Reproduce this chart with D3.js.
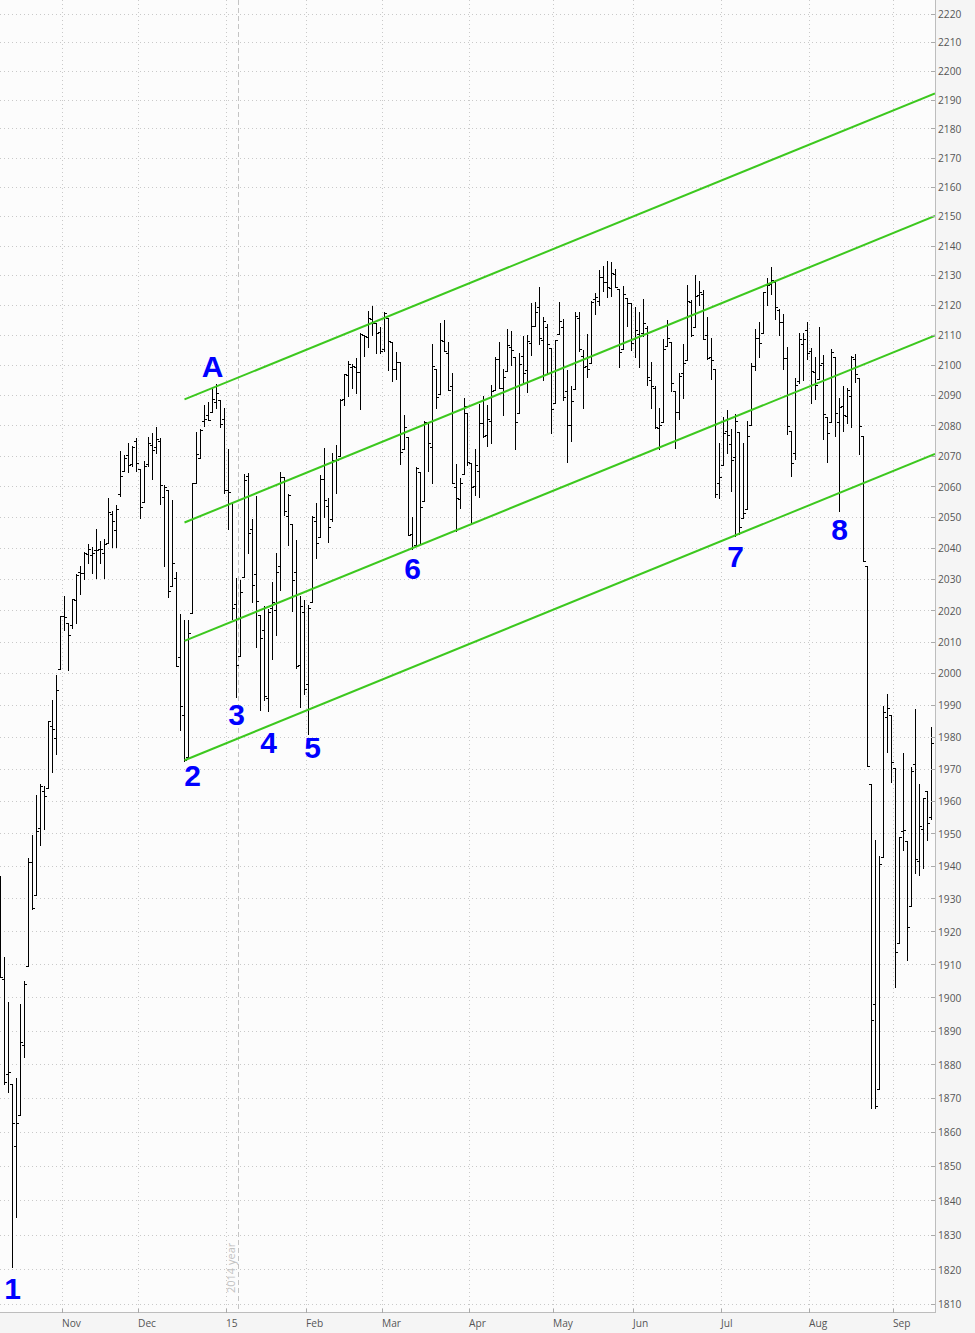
<!DOCTYPE html>
<html><head><meta charset="utf-8">
<script src="https://cdn.jsdelivr.net/npm/d3@7"></script>
<style>
html,body{margin:0;padding:0;background:#f5f5f5;}
svg{display:block;}
</style></head><body>
<svg id="chart" width="975" height="1333"></svg>
<script>
// ---------- DATA ----------
const dates = [
"2014-10-10","2014-10-13","2014-10-14","2014-10-15","2014-10-16","2014-10-17","2014-10-20","2014-10-21","2014-10-22","2014-10-23","2014-10-24","2014-10-27","2014-10-28","2014-10-29","2014-10-30","2014-10-31",
"2014-11-03","2014-11-04","2014-11-05","2014-11-06","2014-11-07","2014-11-10","2014-11-11","2014-11-12","2014-11-13","2014-11-14","2014-11-17","2014-11-18","2014-11-19","2014-11-20","2014-11-21","2014-11-24","2014-11-25","2014-11-26","2014-11-28",
"2014-12-01","2014-12-02","2014-12-03","2014-12-04","2014-12-05","2014-12-08","2014-12-09","2014-12-10","2014-12-11","2014-12-12","2014-12-15","2014-12-16","2014-12-17","2014-12-18","2014-12-19","2014-12-22","2014-12-23","2014-12-24","2014-12-26","2014-12-29","2014-12-30","2014-12-31",
"2015-01-02","2015-01-05","2015-01-06","2015-01-07","2015-01-08","2015-01-09","2015-01-12","2015-01-13","2015-01-14","2015-01-15","2015-01-16","2015-01-20","2015-01-21","2015-01-22","2015-01-23","2015-01-26","2015-01-27","2015-01-28","2015-01-29","2015-01-30",
"2015-02-02","2015-02-03","2015-02-04","2015-02-05","2015-02-06","2015-02-09","2015-02-10","2015-02-11","2015-02-12","2015-02-13","2015-02-17","2015-02-18","2015-02-19","2015-02-20","2015-02-23","2015-02-24","2015-02-25","2015-02-26","2015-02-27",
"2015-03-02","2015-03-03","2015-03-04","2015-03-05","2015-03-06","2015-03-09","2015-03-10","2015-03-11","2015-03-12","2015-03-13","2015-03-16","2015-03-17","2015-03-18","2015-03-19","2015-03-20","2015-03-23","2015-03-24","2015-03-25","2015-03-26","2015-03-27","2015-03-30","2015-03-31",
"2015-04-01","2015-04-02","2015-04-06","2015-04-07","2015-04-08","2015-04-09","2015-04-10","2015-04-13","2015-04-14","2015-04-15","2015-04-16","2015-04-17","2015-04-20","2015-04-21","2015-04-22","2015-04-23","2015-04-24","2015-04-27","2015-04-28","2015-04-29","2015-04-30",
"2015-05-01","2015-05-04","2015-05-05","2015-05-06","2015-05-07","2015-05-08","2015-05-11","2015-05-12","2015-05-13","2015-05-14","2015-05-15","2015-05-18","2015-05-19","2015-05-20","2015-05-21","2015-05-22","2015-05-26","2015-05-27","2015-05-28","2015-05-29",
"2015-06-01","2015-06-02","2015-06-03","2015-06-04","2015-06-05","2015-06-08","2015-06-09","2015-06-10","2015-06-11","2015-06-12","2015-06-15","2015-06-16","2015-06-17","2015-06-18","2015-06-19","2015-06-22","2015-06-23","2015-06-24","2015-06-25","2015-06-26","2015-06-29","2015-06-30",
"2015-07-01","2015-07-02","2015-07-06","2015-07-07","2015-07-08","2015-07-09","2015-07-10","2015-07-13","2015-07-14","2015-07-15","2015-07-16","2015-07-17","2015-07-20","2015-07-21","2015-07-22","2015-07-23","2015-07-24","2015-07-27","2015-07-28","2015-07-29","2015-07-30","2015-07-31",
"2015-08-03","2015-08-04","2015-08-05","2015-08-06","2015-08-07","2015-08-10","2015-08-11","2015-08-12","2015-08-13","2015-08-14","2015-08-17","2015-08-18","2015-08-19","2015-08-20","2015-08-21","2015-08-24","2015-08-25","2015-08-26","2015-08-27","2015-08-28","2015-08-31",
"2015-09-01","2015-09-02","2015-09-03","2015-09-04","2015-09-08","2015-09-09","2015-09-10","2015-09-11","2015-09-14","2015-09-15"
];

const open = [
1925.6,1905.65,1877.11,1874.18,1855.95,1864.91,1885.62,1909.38,1941.29,1931.02,1951.59,1962.97,1964.14,1983.29,1979.49,2001.20,
2018.21,2015.81,2015.29,2023.33,2032.36,2032.01,2038.20,2037.75,2039.21,2039.74,2038.29,2041.48,2051.16,2045.87,2057.46,2065.07,2070.15,2067.36,2074.78,
2065.78,2054.77,2067.45,2073.64,2072.78,2074.84,2056.55,2058.86,2027.92,2030.36,2005.03,1986.71,1973.77,2018.98,2061.04,2069.28,2081.48,2083.25,2084.30,2087.63,2088.49,2082.11,
2058.90,2054.44,2022.15,2005.55,2030.61,2063.45,2046.13,2031.58,2018.40,2013.75,1992.25,2020.76,2020.19,2034.30,2062.98,2050.42,2047.86,2032.34,2002.45,2019.35,
1996.67,2022.71,2048.86,2043.45,2062.28,2053.47,2049.38,2068.55,2069.98,2088.78,2096.47,2099.16,2099.25,2097.65,2109.83,2109.10,2115.30,2113.91,2110.88,
2105.23,2115.76,2107.72,2098.54,2100.91,2072.25,2076.14,2044.69,2041.10,2064.56,2055.35,2080.59,2072.84,2098.69,2090.32,2107.99,2103.94,2093.10,2059.94,2055.78,2064.11,2084.05,
2067.63,2060.03,2064.87,2080.79,2076.94,2081.29,2091.51,2102.03,2092.28,2097.82,2105.96,2102.58,2084.11,2102.82,2098.27,2107.21,2112.80,2119.29,2108.35,2112.49,2105.52,
2087.38,2110.23,2112.63,2091.26,2079.96,2092.13,2115.56,2102.87,2099.62,2100.43,2122.07,2121.30,2129.45,2127.79,2125.55,2130.36,2125.34,2105.13,2122.27,2120.66,
2108.64,2110.41,2110.64,2112.35,2095.09,2092.34,2079.07,2081.12,2106.24,2107.43,2091.34,2084.26,2097.40,2101.58,2121.06,2112.50,2123.16,2123.65,2109.96,2102.62,2098.63,2061.19,
2067.00,2078.03,2073.95,2069.52,2077.66,2049.73,2052.74,2080.03,2099.72,2109.01,2110.55,2126.80,2126.85,2127.55,2118.21,2114.16,2102.24,2078.19,2070.75,2094.70,2106.78,2111.60,
2104.49,2097.68,2095.27,2100.75,2082.61,2080.98,2102.66,2081.10,2086.19,2083.15,2089.70,2101.99,2095.69,2076.61,2034.08,1965.15,1898.08,1872.75,1942.77,1986.06,1986.73,
1970.09,1916.52,1950.79,1947.76,1927.74,1971.45,1941.59,1951.45,1963.06,1955.10
];

const high = [
1936.98,1912.09,1898.71,1874.18,1876.01,1898.16,1905.03,1942.45,1949.31,1961.95,1965.27,1964.64,1985.05,1991.40,1999.40,2018.19,
2024.46,2015.98,2023.77,2031.61,2034.26,2038.70,2041.28,2040.33,2046.18,2042.22,2043.07,2056.08,2052.14,2053.84,2071.46,2070.17,2074.21,2073.29,2075.76,
2065.78,2068.22,2076.28,2077.34,2079.47,2075.78,2060.60,2058.86,2055.53,2032.25,2018.69,2016.89,2016.75,2061.23,2077.85,2078.76,2086.73,2087.56,2092.70,2093.55,2088.49,2085.58,
2072.36,2054.44,2030.25,2029.61,2064.08,2064.43,2049.30,2056.93,2018.40,2021.35,2020.46,2028.94,2038.29,2064.62,2062.98,2057.62,2047.86,2042.49,2024.64,2023.32,
2021.66,2050.30,2054.74,2063.55,2072.40,2056.16,2070.86,2073.48,2088.53,2097.03,2101.30,2100.23,2102.13,2110.61,2110.05,2117.94,2119.59,2113.91,2112.74,
2117.52,2115.76,2107.72,2104.25,2100.91,2083.49,2076.14,2050.08,2066.41,2064.56,2081.41,2080.59,2106.85,2098.69,2113.92,2114.86,2107.63,2097.43,2067.15,2062.83,2088.97,2084.05,
2067.63,2072.17,2086.99,2089.81,2086.69,2093.31,2102.61,2107.65,2098.62,2111.91,2111.30,2102.58,2103.94,2109.64,2109.98,2120.49,2120.92,2125.92,2116.04,2113.65,2105.52,
2108.41,2120.95,2115.24,2098.42,2092.90,2117.66,2117.69,2105.06,2110.19,2121.45,2123.89,2131.78,2133.02,2134.72,2134.28,2132.15,2125.34,2126.22,2122.27,2120.66,
2119.15,2117.59,2121.92,2112.89,2100.99,2093.01,2085.62,2108.50,2115.02,2107.43,2091.34,2097.40,2106.79,2126.65,2121.64,2129.87,2128.03,2125.10,2116.04,2108.92,2098.63,2074.28,
2082.78,2085.06,2078.61,2083.74,2077.66,2074.28,2081.31,2100.67,2111.98,2114.14,2124.42,2128.91,2132.82,2128.49,2118.51,2116.87,2106.01,2078.19,2095.60,2110.60,2110.48,2114.24,
2105.70,2102.51,2112.66,2103.32,2082.61,2105.35,2102.66,2089.06,2092.93,2092.45,2102.87,2103.47,2095.69,2076.61,2034.08,1965.15,1948.04,1943.09,1989.60,1993.48,1986.73,
1970.09,1948.91,1975.01,1947.76,1970.42,1988.63,1965.29,1961.05,1963.06,1983.19
];

const low = [
1906.05,1874.14,1871.79,1820.66,1835.02,1864.91,1882.30,1909.38,1926.83,1931.02,1946.27,1951.37,1964.14,1969.04,1974.75,2001.20,
2013.68,2001.01,2014.42,2015.86,2025.07,2030.17,2035.28,2031.95,2030.44,2035.20,2030.20,2041.48,2040.37,2040.49,2056.75,2065.07,2064.75,2066.62,2065.06,
2049.57,2054.77,2066.65,2062.34,2070.81,2054.27,2034.17,2024.26,2027.92,2002.33,1982.26,1972.56,1973.77,2018.98,2061.03,2069.28,2079.77,2081.86,2084.30,2085.75,2079.53,2057.94,
2046.04,2017.34,1992.44,2005.55,2030.61,2038.33,2022.58,2008.25,1988.44,1991.47,1988.12,2004.49,2012.04,2026.38,2050.54,2040.97,2019.91,2001.49,1989.18,1993.38,
1980.90,2022.71,2036.72,2043.45,2049.97,2041.88,2048.62,2057.99,2069.98,2086.70,2089.80,2092.15,2090.79,2085.44,2103.00,2105.87,2109.89,2103.76,2103.75,
2104.50,2098.26,2094.49,2095.22,2067.27,2072.21,2044.16,2039.69,2041.10,2041.17,2055.35,2065.08,2061.23,2085.56,2090.32,2104.42,2091.50,2061.05,2045.50,2052.96,2064.11,2067.04,
2048.38,2057.32,2056.52,2076.10,2073.30,2074.29,2091.51,2092.33,2083.24,2097.82,2100.02,2072.37,2084.11,2094.38,2091.05,2103.19,2112.80,2107.04,2094.89,2097.41,2077.59,
2087.38,2110.23,2088.46,2067.93,2074.99,2092.13,2104.58,2085.57,2096.04,2100.43,2116.81,2120.01,2124.50,2122.59,2122.95,2126.06,2099.18,2105.13,2112.86,2104.89,
2102.54,2099.14,2109.61,2093.23,2085.67,2079.11,2072.14,2081.12,2106.24,2091.33,2072.49,2082.10,2088.86,2101.58,2109.45,2112.50,2119.89,2108.58,2101.78,2095.38,2056.64,2056.32,
2067.00,2071.02,2058.40,2044.02,2044.66,2049.73,2052.74,2080.03,2098.18,2102.49,2110.55,2119.88,2123.66,2115.40,2110.00,2098.63,2077.09,2063.52,2069.09,2094.08,2094.97,2102.07,
2087.31,2088.60,2095.27,2075.53,2067.91,2080.98,2076.49,2052.09,2078.26,2080.61,2079.30,2094.14,2070.53,2035.73,1970.89,1867.01,1867.08,1872.75,1942.77,1975.19,1965.98,
1903.07,1916.52,1944.72,1911.21,1927.74,1937.88,1937.17,1939.19,1948.04,1954.30
];

const close = [
1906.13,1874.74,1877.70,1862.49,1862.76,1886.76,1904.01,1941.28,1927.11,1950.82,1964.58,1961.63,1985.05,1982.30,1994.65,2018.05,
2017.81,2012.10,2023.57,2031.21,2031.92,2038.26,2039.68,2038.25,2039.33,2039.82,2041.32,2051.80,2048.72,2052.75,2063.50,2069.41,2067.03,2072.83,2067.56,
2053.44,2066.55,2074.33,2071.92,2075.37,2060.31,2059.82,2026.14,2035.33,2002.33,1989.63,1972.74,2012.89,2061.23,2070.65,2078.54,2082.17,2081.88,2088.77,2090.57,2080.35,2058.90,
2058.20,2020.58,2002.61,2025.90,2062.14,2044.81,2028.26,2023.03,2011.27,1992.67,2019.42,2022.55,2032.12,2063.15,2051.82,2057.09,2029.55,2002.16,2021.25,1994.99,
2020.85,2050.03,2041.51,2062.52,2055.47,2046.74,2068.59,2068.53,2088.48,2096.99,2100.34,2099.68,2097.45,2110.30,2109.66,2115.48,2113.86,2110.74,2104.50,
2117.39,2107.78,2098.53,2101.04,2071.26,2079.43,2044.16,2040.24,2065.95,2053.40,2081.19,2074.28,2099.50,2089.27,2108.10,2104.42,2091.50,2061.05,2056.15,2061.02,2086.24,2067.89,
2059.69,2066.96,2080.62,2076.33,2081.90,2091.18,2102.06,2092.43,2095.84,2106.63,2104.99,2081.18,2100.40,2097.29,2107.96,2112.93,2117.69,2108.92,2114.76,2106.85,2085.51,
2108.29,2114.49,2089.46,2080.15,2088.00,2116.10,2105.33,2099.12,2098.48,2121.10,2122.73,2129.20,2127.83,2125.85,2130.82,2126.06,2104.20,2123.48,2120.79,2107.39,
2111.73,2109.60,2114.07,2095.84,2092.83,2079.28,2080.15,2105.20,2108.86,2094.11,2084.43,2096.29,2100.44,2121.24,2109.99,2122.85,2124.20,2108.58,2102.31,2101.49,2057.64,2063.11,
2077.42,2076.78,2068.76,2081.34,2046.68,2051.31,2076.62,2099.60,2108.95,2107.40,2124.29,2126.64,2128.28,2119.21,2114.15,2102.15,2079.65,2067.64,2093.25,2108.57,2108.63,2103.84,
2098.04,2093.32,2099.84,2083.56,2077.57,2104.18,2084.07,2086.05,2083.39,2091.54,2102.44,2096.92,2079.61,2035.73,1970.89,1893.21,1867.61,1940.51,1987.66,1988.87,1972.18,
1913.85,1948.86,1951.13,1921.22,1969.41,1942.04,1952.29,1961.05,1953.03,1978.09
];

const monthTickDates  = ["2014-11-03","2014-12-01","2015-01-02","2015-02-02","2015-03-02","2015-04-01","2015-05-01","2015-06-01","2015-07-01","2015-08-03","2015-09-01"];
const monthTickLabels = ["Nov","Dec","15","Feb","Mar","Apr","May","Jun","Jul","Aug","Sep"];

const yTickValues = [1810,1820,1830,1840,1850,1860,1870,1880,1890,1900,1910,1920,1930,1940,1950,1960,1970,1980,1990,2000,
  2010,2020,2030,2040,2050,2060,2070,2080,2090,2100,2110,2120,2130,2140,2150,2160,2170,2180,2190,2200,2210,2220];

const yearSeparatorDate = "2015-01-07";
const yearSeparatorLabel = "2014 year";

// parallel trend channel (price at start date and at end date)
const channelStartDate = "2014-12-16";
const channelEndDate   = "2015-09-15";
const channelStartValues = [2088.7, 2048.4, 2010.4, 1972.8];
const channelEndValues   = [2191.8, 2149.7, 2109.5, 2070.3];

// wave annotations: text, bar date, price level of the text baseline
const waveLabels = ["1","2","3","4","5","6","7","8","A"];
const waveDates  = ["2014-10-15","2014-12-18","2015-01-06","2015-01-16","2015-02-03","2015-03-11","2015-07-07","2015-08-12","2014-12-26"];
const wavePrices = [1811.6, 1964.9, 1983.8, 1975.0, 1973.5, 2030.1, 2034.1, 2042.9, 2096.1];

// ---------- CHART ----------
const W = 975, H = 1333;
const plotRight = 935, plotBottom = 1313;
const svg = d3.select("#chart");

const x = d3.scalePoint().domain(dates).range([0.5, 931.5]);
const y = d3.scaleLog().domain([1810, 2220]).range([1304.7, 14]);
const cx = d => Math.floor(x(d)) + 0.5;   // crisp bar centre
const py = v => Math.floor(y(v)) + 0.5;

svg.append("rect").attr("width", W).attr("height", H).attr("fill", "#f5f5f5");
svg.append("rect").attr("width", plotRight).attr("height", plotBottom).attr("fill", "#fcfcfc");

svg.append("defs").append("clipPath").attr("id", "plotclip")
  .append("rect").attr("width", plotRight).attr("height", plotBottom);

const grid = svg.append("g").attr("stroke", "#c9c9c9").attr("stroke-width", 1)
  .attr("stroke-dasharray", "1,3").attr("shape-rendering", "crispEdges");
grid.selectAll("line.h").data(yTickValues).join("line").attr("class", "h")
  .attr("x1", 0).attr("x2", plotRight).attr("y1", d => py(d)).attr("y2", d => py(d));
grid.selectAll("line.v").data(monthTickDates).join("line").attr("class", "v")
  .attr("x1", d => cx(d) - 2).attr("x2", d => cx(d) - 2).attr("y1", 0).attr("y2", plotBottom);

// year separator
const sepX = cx(yearSeparatorDate) - 2;
svg.append("line").attr("x1", sepX).attr("x2", sepX).attr("y1", 0).attr("y2", plotBottom)
  .attr("stroke", "#c4c4c4").attr("stroke-dasharray", "5,3").attr("shape-rendering", "crispEdges");
svg.append("text").attr("transform", `translate(${sepX - 4},1293) rotate(-90)`)
  .attr("font-family", "'Open Sans', sans-serif").attr("font-size", "11px").attr("fill", "#c2c2c2")
  .text(yearSeparatorLabel);

// OHLC bars
const bars = svg.append("g").attr("clip-path", "url(#plotclip)")
  .attr("stroke", "#000").attr("stroke-width", 1).attr("shape-rendering", "crispEdges");
const idx = d3.range(dates.length);
bars.selectAll("line.hl").data(idx).join("line").attr("class", "hl")
  .attr("x1", i => cx(dates[i])).attr("x2", i => cx(dates[i]))
  .attr("y1", i => Math.floor(y(high[i]))).attr("y2", i => Math.floor(y(low[i])) + 1);
bars.selectAll("line.o").data(idx).join("line").attr("class", "o")
  .attr("x1", i => cx(dates[i]) - 2.5).attr("x2", i => cx(dates[i]) - 0.5)
  .attr("y1", i => py(open[i])).attr("y2", i => py(open[i]));
bars.selectAll("line.c").data(idx).join("line").attr("class", "c")
  .attr("x1", i => cx(dates[i]) + 0.5).attr("x2", i => cx(dates[i]) + 2.5)
  .attr("y1", i => py(close[i])).attr("y2", i => py(close[i]));

// channel lines
const chan = svg.append("g").attr("clip-path", "url(#plotclip)");
const x0 = cx(channelStartDate), x1 = cx(channelEndDate);
chan.selectAll("line").data(d3.range(channelStartValues.length)).join("line")
  .attr("x1", x0).attr("y1", k => y(channelStartValues[k]))
  .attr("x2", plotRight)
  .attr("y2", k => {
    const y0 = y(channelStartValues[k]), y1 = y(channelEndValues[k]);
    return y1 + (y1 - y0) / (x1 - x0) * (plotRight - x1);
  })
  .attr("stroke", "#3cc81e").attr("stroke-width", 2);

// wave labels
svg.append("g").selectAll("text").data(d3.range(waveLabels.length)).join("text")
  .attr("x", k => cx(waveDates[k])).attr("y", k => y(wavePrices[k]))
  .attr("text-anchor", "middle")
  .attr("font-family", "'Liberation Sans', Arial, sans-serif").attr("font-weight", "bold")
  .attr("font-size", "30px").attr("fill", "#0000ff")
  .text(k => waveLabels[k]);

// axes lines
svg.append("line").attr("x1", plotRight + 0.5).attr("x2", plotRight + 0.5).attr("y1", 0).attr("y2", plotBottom)
  .attr("stroke", "#bdbdbd");
svg.append("line").attr("x1", 0).attr("x2", plotRight + 1).attr("y1", plotBottom - 0.5).attr("y2", plotBottom - 0.5)
  .attr("stroke", "#bdbdbd");

// right axis
const tickG = svg.append("g").attr("stroke", "#aaa").attr("shape-rendering", "crispEdges");
tickG.selectAll("line").data(yTickValues).join("line")
  .attr("x1", plotRight - 4).attr("x2", plotRight).attr("y1", d => py(d)).attr("y2", d => py(d));
const yAxis = d3.axisRight(y).tickValues(yTickValues).tickFormat(d3.format("d")).tickSize(0).tickPadding(3);
const yg = svg.append("g").attr("transform", `translate(${plotRight},0)`).call(yAxis);
yg.select(".domain").remove();
yg.selectAll("text").attr("font-family", "'Open Sans', sans-serif").attr("font-size", "10.2px").attr("fill", "#555");

// bottom axis
const bt = svg.append("g");
bt.selectAll("line").data(monthTickDates).join("line")
  .attr("x1", d => cx(d) - 2).attr("x2", d => cx(d) - 2)
  .attr("y1", plotBottom - 4).attr("y2", plotBottom).attr("stroke", "#aaa").attr("shape-rendering", "crispEdges");
bt.selectAll("text").data(monthTickDates).join("text")
  .attr("x", d => cx(d) - 2.5).attr("y", 1326.5)
  .attr("font-family", "'Open Sans', sans-serif").attr("font-size", "10.2px").attr("fill", "#555")
  .text((d, i) => monthTickLabels[i]);
</script>
</body></html>
